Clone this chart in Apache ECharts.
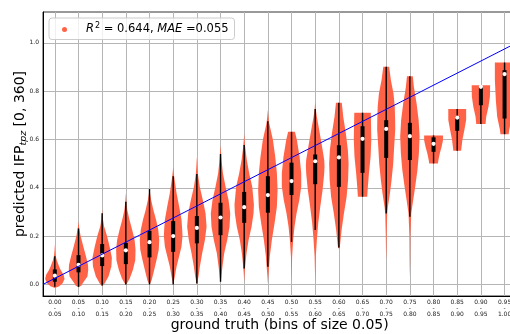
<!DOCTYPE html>
<html>
<head>
<meta charset="utf-8">
<script src="https://cdn.jsdelivr.net/npm/echarts@6/dist/echarts.min.js"></script>
<style>
  html, body { margin: 0; padding: 0; overflow: hidden; background: #fff; width: 510px; height: 334px; }
  #chart { width: 520px; height: 334px; }
</style>
</head>
<body>
<div id="chart"></div>
<script>
// Ground-truth bins (lower / upper bound)
const binLower = ['0.00','0.05','0.10','0.15','0.20','0.25','0.30','0.35','0.40','0.45',
                  '0.50','0.55','0.60','0.65','0.70','0.75','0.80','0.85','0.90','0.95'];
const binUpper = ['0.05','0.10','0.15','0.20','0.25','0.30','0.35','0.40','0.45','0.50',
                  '0.55','0.60','0.65','0.70','0.75','0.80','0.85','0.90','0.95','1.00'];

const yTicks = [0, 0.2, 0.4, 0.6, 0.8, 1.0];

// Density outline of each violin: [predicted value, relative half-width], bottom to top
const violinProfiles = [
  [[-0.015,0],[-0.008,0.45],[0.005,0.8],[0.022,1.0],[0.04,0.9],[0.06,0.6],[0.075,0.43],[0.1,0.2],[0.12,0.08],[0.14,0.03],[0.165,0]],
  [[-0.012,0],[-0.005,0.3],[0.006,0.45],[0.033,0.92],[0.06,1.0],[0.08,0.98],[0.115,0.78],[0.156,0.5],[0.2,0.22],[0.23,0.08],[0.26,0]],
  [[-0.008,0],[0.004,0.25],[0.033,0.65],[0.074,0.95],[0.11,1.0],[0.156,0.77],[0.2,0.5],[0.24,0.2],[0.27,0.08],[0.308,0]],
  [[-0.002,0],[0.01,0.2],[0.024,0.4],[0.06,0.72],[0.1,0.97],[0.143,1.0],[0.184,0.9],[0.226,0.65],[0.267,0.38],[0.308,0.15],[0.34,0.06],[0.377,0]],
  [[-0.002,0],[0.017,0.22],[0.06,0.48],[0.1,0.72],[0.143,0.95],[0.184,1.0],[0.226,0.9],[0.267,0.68],[0.308,0.4],[0.35,0.17],[0.375,0.07],[0.4,0]],
  [[-0.002,0],[0.033,0.17],[0.074,0.35],[0.115,0.6],[0.157,0.86],[0.2,0.96],[0.226,0.93],[0.267,0.86],[0.322,0.62],[0.377,0.35],[0.432,0.15],[0.46,0.06],[0.487,0]],
  [[0.0,0],[0.033,0.17],[0.074,0.31],[0.129,0.55],[0.184,0.83],[0.239,1.0],[0.294,0.9],[0.349,0.62],[0.404,0.3],[0.459,0.1],[0.49,0.05],[0.528,0]],
  [[0.008,0],[0.026,0.07],[0.074,0.2],[0.129,0.38],[0.184,0.69],[0.239,0.93],[0.294,1.0],[0.349,0.83],[0.404,0.52],[0.459,0.25],[0.515,0.1],[0.545,0.05],[0.577,0]],
  [[0.01,0],[0.04,0.04],[0.074,0.1],[0.129,0.24],[0.184,0.45],[0.239,0.76],[0.294,0.96],[0.33,1.0],[0.349,0.96],[0.404,0.83],[0.459,0.52],[0.515,0.27],[0.57,0.1],[0.6,0.04],[0.625,0]],
  [[0.004,0],[0.03,0.04],[0.06,0.1],[0.115,0.2],[0.184,0.41],[0.253,0.69],[0.322,0.93],[0.391,1.0],[0.46,0.93],[0.529,0.76],[0.598,0.52],[0.667,0.14],[0.695,0.06],[0.722,0]],
  [[0.011,0],[0.06,0.03],[0.115,0.06],[0.184,0.17],[0.24,0.31],[0.295,0.52],[0.35,0.8],[0.405,1.0],[0.46,1.0],[0.529,0.83],[0.598,0.55],[0.632,0.35]],
  [[0.011,0],[0.06,0.03],[0.115,0.06],[0.184,0.17],[0.253,0.31],[0.322,0.52],[0.391,0.76],[0.46,0.93],[0.49,0.96],[0.515,0.93],[0.584,0.65],[0.639,0.41],[0.694,0.17],[0.725,0.06],[0.756,0]],
  [[0.15,0.08],[0.17,0.14],[0.225,0.28],[0.294,0.52],[0.363,0.8],[0.432,0.95],[0.501,1.0],[0.556,0.93],[0.625,0.72],[0.694,0.45],[0.752,0.3]],
  [[0.363,0.48],[0.405,0.55],[0.46,0.66],[0.529,0.83],[0.598,0.9],[0.653,0.88],[0.711,0.85]],
  [[0.1,0],[0.15,0.03],[0.21,0.05],[0.294,0.1],[0.321,0.17],[0.376,0.38],[0.431,0.55],[0.5,0.72],[0.57,0.82],[0.64,0.93],[0.681,0.92],[0.736,0.88],[0.791,0.75],[0.846,0.48],[0.901,0.3]],
  [[0.031,0],[0.1,0.03],[0.2,0.05],[0.294,0.14],[0.35,0.34],[0.405,0.55],[0.474,0.78],[0.543,0.93],[0.612,1.0],[0.681,0.9],[0.749,0.69],[0.818,0.41],[0.862,0.3]],
  [[0.501,0.45],[0.515,0.5],[0.542,0.64],[0.57,0.83],[0.597,0.97],[0.617,0.97]],
  [[0.553,0.4],[0.598,0.53],[0.64,0.74],[0.681,0.92],[0.726,0.92]],
  [[0.664,0.48],[0.694,0.55],[0.736,0.78],[0.777,0.93],[0.825,0.95]],
  [[0.622,0.42],[0.64,0.48],[0.694,0.76],[0.763,0.9],[0.846,1.0],[0.919,1.0]]
];

// Box-plot statistics drawn inside each violin
const q1 =          [0.011,0.050,0.076,0.084,0.112,0.135,0.170,0.204,0.255,0.297,0.370,0.415,0.404,0.462,0.524,0.515,0.549,0.636,0.742,0.687];
const q3 =          [0.062,0.121,0.167,0.172,0.222,0.262,0.283,0.338,0.383,0.448,0.504,0.538,0.576,0.655,0.680,0.669,0.609,0.697,0.818,0.887];
const medians =     [0.036,0.081,0.120,0.141,0.175,0.200,0.234,0.277,0.320,0.370,0.428,0.510,0.526,0.603,0.644,0.614,0.582,0.691,0.818,0.871];
const whiskerLow =  [-0.010,-0.010,-0.005,0.000,0.000,0.000,0.004,0.011,0.066,0.073,0.176,0.225,0.153,0.363,0.294,0.280,0.501,0.553,0.664,0.622];
const whiskerHigh = [0.117,0.232,0.295,0.342,0.395,0.448,0.457,0.540,0.577,0.676,0.632,0.726,0.752,0.711,0.901,0.862,0.617,0.726,0.825,0.919];

// Ideal prediction (prediction = ground truth), in ground-truth units
const identityLine = [[0, 0], [1, 1]];

// Fit quality shown in the legend
const r2 = 0.644;
const mae = 0.055;

const FONT = 'DejaVu Sans';
const VIOLIN_COLOR = '#ff6347';
const HALF_WIDTH = 0.41;   // max violin half-width, in bin units

function renderViolin(params, api) {
  const i = api.value(0);
  const prof = violinProfiles[i];
  const right = prof.map(p => api.coord([i + p[1] * HALF_WIDTH, p[0]]));
  const left = prof.slice().reverse().map(p => api.coord([i - p[1] * HALF_WIDTH, p[0]]));
  const wTop = api.coord([i, whiskerHigh[i]]);
  const wBot = api.coord([i, whiskerLow[i]]);
  const b1 = api.coord([i, q1[i]]);
  const b3 = api.coord([i, q3[i]]);
  const m = api.coord([i, medians[i]]);
  return {
    type: 'group',
    children: [
      { type: 'polygon', shape: { points: right.concat(left) }, style: { fill: VIOLIN_COLOR } },
      { type: 'line', shape: { x1: wTop[0], y1: wTop[1], x2: wBot[0], y2: wBot[1] },
        style: { stroke: '#000', lineWidth: 1.4 } },
      { type: 'line', shape: { x1: b1[0], y1: b1[1], x2: b3[0], y2: b3[1] },
        style: { stroke: '#000', lineWidth: 4 } },
      { type: 'circle', shape: { cx: m[0], cy: m[1], r: 2.1 }, style: { fill: '#fff' } }
    ]
  };
}

const binIndex = binLower.map((_, i) => i);

const chart = echarts.init(document.getElementById('chart'), null, { renderer: 'canvas' });
chart.setOption({
  animation: false,
  backgroundColor: '#fff',
  textStyle: { fontFamily: FONT },
  grid: {
    left: 43, top: 12, width: 473.4, height: 284,
    containLabel: false, outerBoundsMode: 'none',
    show: true, borderColor: '#333', borderWidth: 1, backgroundColor: 'transparent'
  },
  legend: {
    left: 49, top: 18,
    orient: 'horizontal',
    padding: [4, 6, 4, 13],
    itemWidth: 5, itemHeight: 5,
    backgroundColor: 'rgba(255,255,255,0.8)',
    borderColor: '#cccccc', borderWidth: 1, borderRadius: 3,
    data: [{ name: 'fit', icon: 'circle' }],
    formatter: () => '{lead|}{i|R}{sup|2}{n| = ' + r2.toFixed(3) + ', }{i|MAE}{n| =' + mae.toFixed(3) + '}',
    textStyle: {
      fontFamily: FONT, fontSize: 11.5, color: '#000',
      rich: {
        lead: { width: 14 },
        i: { fontFamily: FONT, fontSize: 11.5, fontStyle: 'italic', color: '#000', lineHeight: 15 },
        n: { fontFamily: FONT, fontSize: 11.5, color: '#000', lineHeight: 15 },
        sup: { fontFamily: FONT, fontSize: 8, color: '#000', verticalAlign: 'top', lineHeight: 11, padding: [0, 0, 0, 1] }
      }
    }
  },
  xAxis: [
    {
      type: 'value', min: -0.5, max: 19.5,
      name: 'ground truth (bins of size 0.05)',
      nameLocation: 'middle', nameGap: 22, nameMoveOverlap: false,
      nameTextStyle: { fontFamily: FONT, fontSize: 14, color: '#000' },
      axisLine: { show: true, onZero: false, lineStyle: { color: '#000', width: 1 } },
      axisTick: { show: false, customValues: binIndex },
      axisLabel: {
        customValues: binIndex,
        margin: 3,
        fontFamily: FONT, fontSize: 6, lineHeight: 6.3, color: '#222',
        formatter: v => binLower[Math.round(v)] + '\n-\n' + binUpper[Math.round(v)]
      },
      splitLine: { show: true, lineStyle: { color: '#b5b5b5', width: 1 } }
    },
    { type: 'value', min: 0, max: 1, show: false }
  ],
  yAxis: {
    type: 'value', min: -0.048, max: 1.128,
    name: 'predicted IFP{sub|tpz} [0, 360]',
    nameLocation: 'middle', nameRotate: 90, nameGap: 14, nameMoveOverlap: false,
    nameTextStyle: {
      fontFamily: FONT, fontSize: 14, color: '#000', lineHeight: 17,
      rich: {
        sub: { fontFamily: FONT, fontSize: 9.5, fontStyle: 'italic', color: '#000', verticalAlign: 'bottom', lineHeight: 10 }
      }
    },
    axisLine: { show: true, onZero: false, lineStyle: { color: '#000', width: 1 } },
    axisTick: { show: false, customValues: yTicks },
    axisLabel: {
      customValues: yTicks, margin: 4,
      fontFamily: FONT, fontSize: 6, color: '#222',
      formatter: v => v.toFixed(1)
    },
    splitLine: { show: true, lineStyle: { color: '#b5b5b5', width: 1 } }
  },
  series: [
    {
      name: 'fit',
      type: 'custom',
      xAxisIndex: 0, yAxisIndex: 0,
      itemStyle: { color: VIOLIN_COLOR },
      renderItem: renderViolin,
      encode: { x: 0, y: 1 },
      data: binIndex.map(i => [i, medians[i]]),
      clip: true,
      z: 3
    },
    {
      name: 'identity',
      type: 'line',
      xAxisIndex: 1, yAxisIndex: 0,
      data: identityLine,
      symbol: 'none',
      lineStyle: { color: '#0000ff', width: 1 },
      silent: true,
      z: 5
    }
  ]
});
</script>
</body>
</html>
